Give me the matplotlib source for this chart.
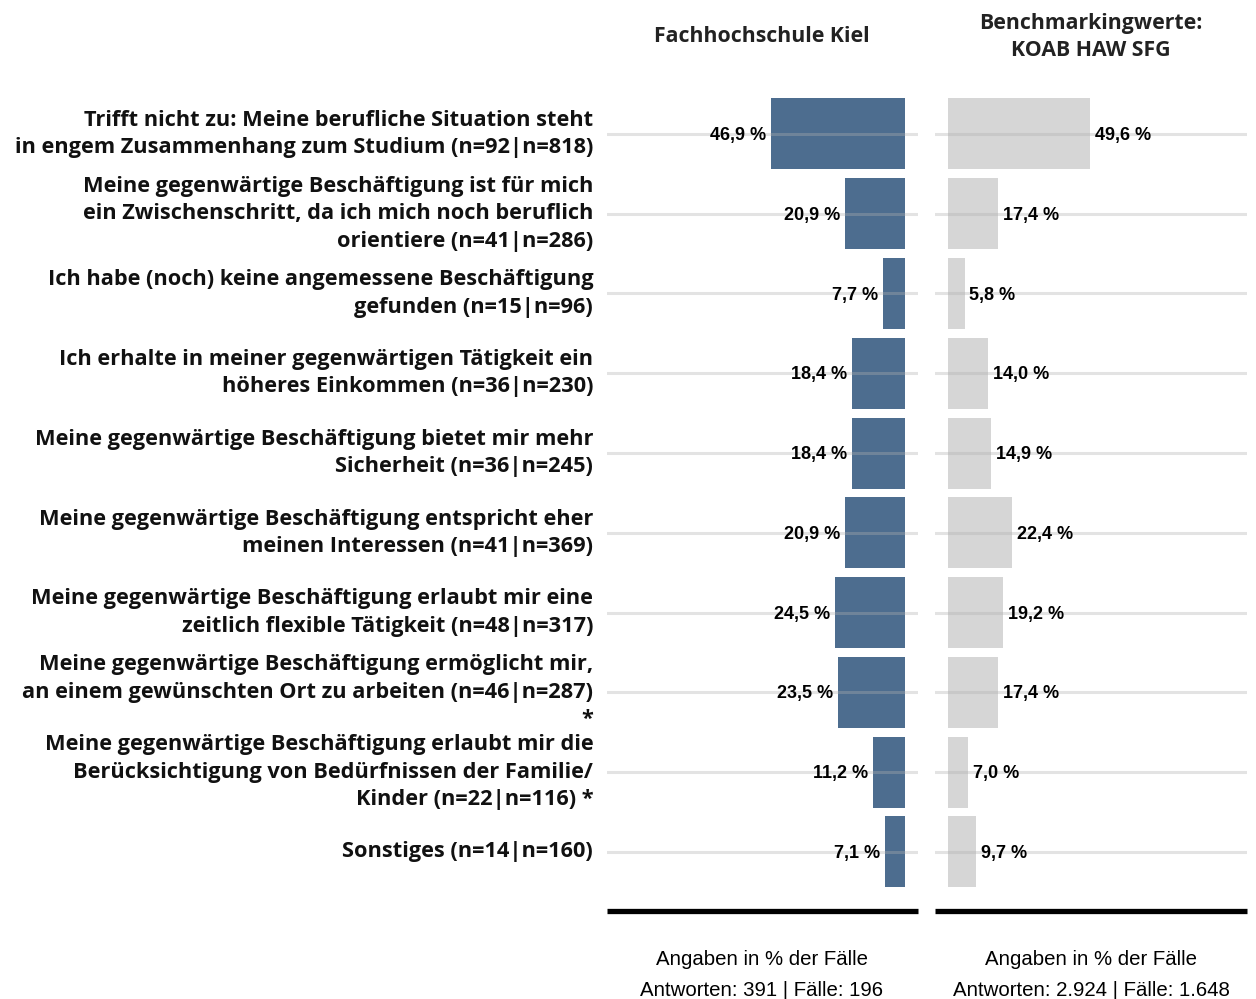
import matplotlib.pyplot as plt
import numpy as np

# Gründe für die Beschäftigung – Kiel vs. Benchmark
kategorien = [
    "Trifft nicht zu: Meine berufliche Situation steht\nin engem Zusammenhang zum Studium (n=92|n=818)",
    "Meine gegenwärtige Beschäftigung ist für mich\nein Zwischenschritt, da ich mich noch beruflich\norientiere (n=41|n=286)",
    "Ich habe (noch) keine angemessene Beschäftigung\ngefunden (n=15|n=96)",
    "Ich erhalte in meiner gegenwärtigen Tätigkeit ein\nhöheres Einkommen (n=36|n=230)",
    "Meine gegenwärtige Beschäftigung bietet mir mehr\nSicherheit (n=36|n=245)",
    "Meine gegenwärtige Beschäftigung entspricht eher\nmeinen Interessen (n=41|n=369)",
    "Meine gegenwärtige Beschäftigung erlaubt mir eine\nzeitlich flexible Tätigkeit (n=48|n=317)",
    "Meine gegenwärtige Beschäftigung ermöglicht mir,\nan einem gewünschten Ort zu arbeiten (n=46|n=287)\n*",
    "Meine gegenwärtige Beschäftigung erlaubt mir die\nBerücksichtigung von Bedürfnissen der Familie/\nKinder (n=22|n=116) *",
    "Sonstiges (n=14|n=160)",
]
werte_fh = [46.9, 20.9, 7.7, 18.4, 18.4, 20.9, 24.5, 23.5, 11.2, 7.1]
werte_koab = [49.6, 17.4, 5.8, 14.0, 14.9, 22.4, 19.2, 17.4, 7.0, 9.7]

titel_fh = "Fachhochschule Kiel"
titel_koab = "Benchmarkingwerte:\nKOAB HAW SFG"
fuss_fh = "Angaben in % der Fälle\nAntworten: 391 | Fälle: 196"
fuss_koab = "Angaben in % der Fälle\nAntworten: 2.924 | Fälle: 1.648"

BLAU = "#4d6d8f"
GRAU = "#d6d6d6"

fig = plt.figure(figsize=(12.56, 9.99), dpi=100)
ax_l = fig.add_axes([0.4833, 0.0881, 0.2476, 0.8178])
ax_r = fig.add_axes([0.7444, 0.0881, 0.2484, 0.8178])

y = np.arange(len(kategorien))


def fmt(v):
    return f"{v:.1f} %".replace(".", ",")


for ax, werte, farbe, xlim, seite in [
    (ax_l, werte_fh, BLAU, (104.3, -4.55), "links"),
    (ax_r, werte_koab, GRAU, (-4.54, 104.4), "rechts"),
]:
    ax.barh(y, werte, height=0.89, color=farbe, zorder=2)
    for yi in y:
        ax.axhline(yi, color="#b0b0b0", alpha=0.35, lw=2.2, zorder=3)
    dx = -3.5 if seite == "links" else 3.5
    ha = "right" if seite == "links" else "left"
    for yi, v in zip(y, werte):
        ax.annotate(fmt(v), (v, yi + 0.02), xytext=(dx, 0), textcoords="offset points",
                    ha=ha, va="center", fontsize=13, fontweight="bold",
                    family="Liberation Sans", zorder=4)
    ax.set_xlim(*xlim)
    ax.set_ylim(9.74, -0.5)
    for s in ["top", "left", "right"]:
        ax.spines[s].set_visible(False)
    ax.spines["bottom"].set_linewidth(3.8)
    ax.spines["bottom"].set_color("black")
    ax.spines["bottom"].set_capstyle("butt")
    ax.set_xticks([])
    ax.set_yticks([])

# Kategorienbeschriftung links neben dem ersten Panel
for yi, text in zip(y, kategorien):
    ax_l.annotate(text, xy=(0, yi), xycoords=("axes fraction", "data"),
                  xytext=(-10, 0), textcoords="offset points",
                  ha="right", va="center", fontsize=15.7, fontweight="bold",
                  family="Open Sans", linespacing=1.4, color="#111111")

fig.text(762 / 1256, 1 - 37 / 999, titel_fh, ha="center", va="center",
         fontsize=15.3, fontweight="bold", family="Open Sans", color="#222222")
fig.text(1091 / 1256, 1 - 37 / 999, titel_koab, ha="center", va="center",
         fontsize=15.3, fontweight="bold", family="Open Sans", color="#222222",
         linespacing=1.4)
fig.text(762 / 1256, 1 - 975 / 999, fuss_fh, ha="center", va="center",
         fontsize=14.7, family="Liberation Sans", linespacing=1.75)
fig.text(1091 / 1256, 1 - 975 / 999, fuss_koab, ha="center", va="center",
         fontsize=14.7, family="Liberation Sans", linespacing=1.75)

fig.savefig("out.png", dpi=100)
